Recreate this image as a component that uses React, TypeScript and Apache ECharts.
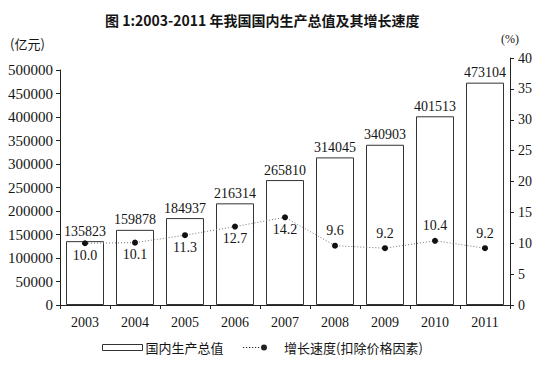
import React, { useEffect, useRef } from "react";
import * as echarts from "echarts";

const years = ["2003", "2004", "2005", "2006", "2007", "2008", "2009", "2010", "2011"];
const gdp = [135823, 159878, 184937, 216314, 265810, 314045, 340903, 401513, 473104];
const growth = [10.0, 10.1, 11.3, 12.7, 14.2, 9.6, 9.2, 10.4, 9.2];

const SERIF = "Liberation Serif";
const CJK = "Noto Sans CJK SC";
const INK = "#151515";

export default function App() {
  const ref = useRef<HTMLDivElement>(null);
  useEffect(() => {
    document.body.style.margin = "0";
    if (!ref.current) return;
    const chart = echarts.init(ref.current, null, { renderer: "svg" });
    const dotLegendIcon =
      "path://M0,2.6h1.2v0.8h-1.2z M3,2.6h1.2v0.8h-1.2z M6,2.6h1.2v0.8h-1.2z M9,2.6h1.2v0.8h-1.2z M12,2.6h1.2v0.8h-1.2z M15,2.6h1.2v0.8h-1.2z M24,3a3,3 0 1,1 -6,0a3,3 0 1,1 6,0z";
    chart.setOption({
      animation: false,
      backgroundColor: "#fff",
      title: {
        text: "图 1:2003-2011 年我国国内生产总值及其增长速度",
        left: 100,
        top: 8,
        textStyle: { fontFamily: CJK, fontSize: 14, fontWeight: "bold", color: INK },
      },
      legend: [
        {
          data: [{ name: "国内生产总值", icon: "rect", itemStyle: { color: "#fff", borderColor: "#333", borderWidth: 1 } }],
          left: 97,
          top: 336,
          itemWidth: 40,
          itemHeight: 6,
          itemGap: 4,
          textStyle: { fontFamily: CJK, fontSize: 13, color: INK, padding: [0, 0, 0, -2] },
        },
        {
          data: [{ name: "增长速度(扣除价格因素)", icon: dotLegendIcon, itemStyle: { color: "#222" } }],
          left: 238,
          top: 336,
          itemWidth: 24,
          itemHeight: 6,
          textStyle: { fontFamily: CJK, fontSize: 13, color: INK, padding: [0, 0, 0, 12] },
        },
      ],
      graphic: [
        { type: "text", left: 10, top: 37, style: { text: "(亿元)", fontFamily: CJK, fontSize: 13, fill: INK } },
        { type: "text", left: 501, top: 33, style: { text: "(%)", fontFamily: SERIF, fontSize: 12, fill: INK } },
      ],
      grid: [
        { left: 60, right: 37, top: 70, bottom: 61 },
        { left: 60, right: 37, top: 58, bottom: 61 },
      ],
      xAxis: [
        {
          type: "category",
          gridIndex: 0,
          data: years,
          axisLine: { lineStyle: { color: "#222", width: 1 } },
          axisTick: { show: true, length: 4, lineStyle: { color: "#222" } },
          axisLabel: { fontFamily: SERIF, fontSize: 14, color: INK, margin: 10 },
        },
        { type: "category", gridIndex: 1, data: years, show: false },
      ],
      yAxis: [
        {
          type: "value",
          gridIndex: 0,
          position: "left",
          min: 0,
          max: 500000,
          interval: 50000,
          splitLine: { show: false },
          axisLine: { show: true, lineStyle: { color: "#222" } },
          axisTick: { show: true, length: 4, lineStyle: { color: "#222" } },
          axisLabel: {
            fontFamily: SERIF,
            fontSize: 15,
            color: INK,
            margin: 7,
            formatter: (v: number) => String(v),
          },
        },
        {
          type: "value",
          gridIndex: 1,
          position: "right",
          min: 0,
          max: 40,
          interval: 5,
          splitLine: { show: false },
          axisLine: { show: true, lineStyle: { color: "#222" } },
          axisTick: { show: true, length: 4, lineStyle: { color: "#222" } },
          axisLabel: { fontFamily: SERIF, fontSize: 14, color: INK, margin: 8 },
        },
      ],
      series: [
        {
          name: "国内生产总值",
          type: "bar",
          xAxisIndex: 0,
          yAxisIndex: 0,
          data: gdp,
          barWidth: 38,
          itemStyle: { color: "#fff", borderColor: "#333", borderWidth: 1 },
          label: {
            show: true,
            position: "top",
            distance: 3,
            fontFamily: SERIF,
            fontSize: 14,
            color: INK,
          },
        },
        {
          name: "增长速度(扣除价格因素)",
          type: "line",
          xAxisIndex: 1,
          yAxisIndex: 1,
          data: growth.map((v, i) => ({
            value: v,
            label: { position: i < 5 ? "bottom" : "top", distance: i < 5 ? 2 : 5 },
          })),
          symbol: "circle",
          symbolSize: 6,
          itemStyle: { color: "#111" },
          lineStyle: { color: "#777", width: 1, type: [1, 2] },
          label: {
            show: true,
            fontFamily: SERIF,
            fontSize: 14,
            color: INK,
            formatter: (p: any) => Number(p.value).toFixed(1),
          },
          z: 5,
        },
      ],
    });
    return () => chart.dispose();
  }, []);
  return <div ref={ref} style={{ width: 547, height: 366 }} />;
}
